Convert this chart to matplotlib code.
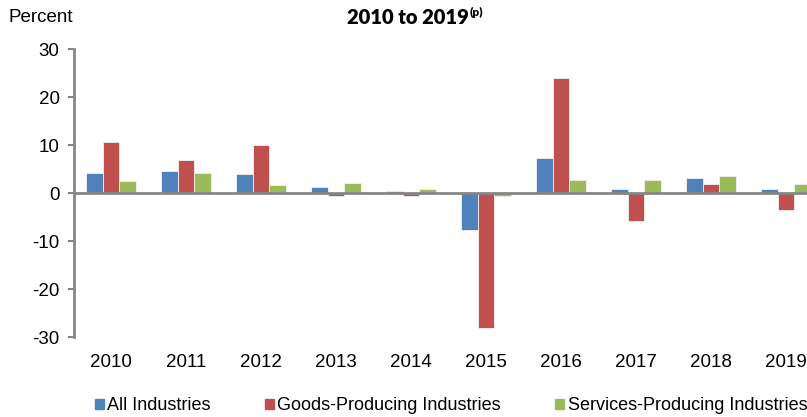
import numpy as np
import matplotlib.pyplot as plt
from matplotlib.patches import Patch

plt.rcParams['font.family'] = ['Liberation Sans', 'DejaVu Sans']
plt.rcParams['axes.unicode_minus'] = False

years = ['2010', '2011', '2012', '2013', '2014', '2015', '2016', '2017', '2018', '2019']
all_ind = [4.2, 4.6, 3.9, 1.2, 0.5, -7.7, 7.2, 0.9, 3.1, 0.9]
goods = [10.6, 6.8, 10.1, -0.6, -0.6, -28.1, 24.0, -5.8, 1.9, -3.6]
services = [2.4, 4.2, 1.6, 2.0, 0.9, -0.6, 2.8, 2.8, 3.5, 1.9]

series = [('All Industries', all_ind, '#4F81BD'),
          ('Goods-Producing Industries', goods, '#C0504D'),
          ('Services-Producing Industries', services, '#9BBB59')]

fig = plt.figure(figsize=(8.07, 4.17), dpi=100)
ax = fig.add_axes([73.5 / 807, 1 - 337 / 417, 750 / 807, 288 / 417])

x = np.arange(len(years))
w = 0.218
for i, (name, vals, col) in enumerate(series):
    ax.bar(x + (i - 1) * w, vals, w, color=col, edgecolor='#f2f2f2', linewidth=0.6, zorder=2)

ax.axhline(0, color='#868686', lw=2, zorder=3)
ax.set_xlim(-0.5, len(years) - 0.5)
ax.set_ylim(-30, 30)
ax.set_yticks(range(-30, 31, 10))
ax.set_xticks(x)
ax.set_xticklabels(years)
ax.tick_params(axis='x', length=0, pad=12, labelsize=13.5)
ax.tick_params(axis='y', length=4, width=1.5, color='#868686', labelsize=13.5, pad=6)
for s in ['top', 'right', 'bottom']:
    ax.spines[s].set_visible(False)
ax.spines['left'].set_color('#868686')
ax.spines['left'].set_linewidth(2)

fig.text(9 / 807, 1 - 18 / 417, 'Percent', fontsize=13.5, va='center', ha='left')
fig.text(469 / 807, 1 - 18 / 417, '2010 to 2019', fontsize=14.5, fontweight='heavy',
         family=['Lato', 'DejaVu Sans'], va='center', ha='right')
fig.text(470 / 807, 1 - 12 / 417, '(p)', fontsize=8.5, fontweight='heavy',
         family=['Lato', 'DejaVu Sans'], va='center', ha='left')

handles = [Patch(color=c, label=n) for n, v, c in series]
fig.legend(handles=handles, loc='center', bbox_to_anchor=(451 / 807, 1 - 406 / 417), ncol=3,
           frameon=False, fontsize=13, handlelength=0.5, handleheight=0.5, handletextpad=0.2,
           columnspacing=3.0)

fig.savefig('out.png', dpi=100)
